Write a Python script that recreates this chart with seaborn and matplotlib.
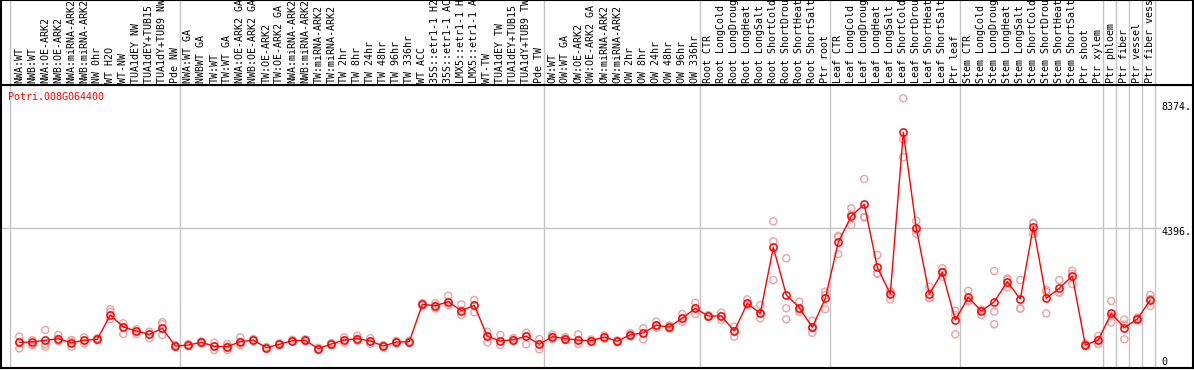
import numpy as np
import pandas as pd
import matplotlib
matplotlib.use("Agg")
import matplotlib.pyplot as plt
import seaborn as sns
from matplotlib.transforms import blended_transform_factory, offset_copy

# ---------------- data ----------------
labels = [
    "NWA:WT", "NWB:WT", "NWA:OE-ARK2", "NWB:OE-ARK2", "NWA:miRNA-ARK2", "NWB:miRNA-ARK2",
    "NW 0hr", "WT H2O", "WT-NW", "TUA1dEY NW", "TUA1dEY+TUB15 NW", "TUA1dY+TUB9 NW", "Pde NW",
    "NWA:WT GA", "NWBWT GA", "TW:WT", "TW:WT GA", "NWA:OE-ARK2 GA", "NWB:OE-ARK2 GA",
    "TW:OE-ARK2", "TW:OE-ARK2 GA", "NWA:miRNA-ARK2", "NWB:miRNA-ARK2", "TW:miRNA-ARK2",
    "TW:miRNA-ARK2", "TW 2hr", "TW 8hr", "TW 24hr", "TW 48hr", "TW 96hr", "TW 336hr", "WT ACC",
    "35S::etr1-1 H2O", "35S::etr1-1 ACC", "LMX5::etr1-1 H2O", "LMX5::etr1-1 ACC", "WT-TW",
    "TUA1dEY TW", "TUA1dEY+TUB15 TW", "TUA1dY+TUB9 TW", "Pde TW",
    "OW:WT", "OW:WT GA", "OW:OE-ARK2", "OW:OE-ARK2 GA", "OW:miRNA-ARK2", "OW:miRNA-ARK2",
    "OW 2hr", "OW 8hr", "OW 24hr", "OW 48hr", "OW 96hr", "OW 336hr",
    "Root CTR", "Root LongCold", "Root LongDrought", "Root LongHeat", "Root LongSalt",
    "Root ShortCold", "Root ShortDrought", "Root ShortHeat", "Root ShortSalt", "Ptr root",
    "Leaf CTR", "Leaf LongCold", "Leaf LongDrought", "Leaf LongHeat", "Leaf LongSalt",
    "Leaf ShortCold", "Leaf ShortDrought", "Leaf ShortHeat", "Leaf ShortSalt", "Ptr leaf",
    "Stem CTR", "Stem LongCold", "Stem LongDrought", "Stem LongHeat", "Stem LongSalt",
    "Stem ShortCold", "Stem ShortDrought", "Stem ShortHeat", "Stem ShortSalt",
    "Ptr shoot", "Ptr xylem", "Ptr phloem", "Ptr fiber", "Ptr vessel", "Ptr fiber vessel",
]

means = [
    647, 657, 713, 766, 634, 713, 745, 1543, 1149, 1018, 909, 1107, 525,
    558, 647, 515, 503, 667, 722, 470, 581, 700, 713, 437, 591, 722, 766, 690, 525, 655, 667,
    1895, 1849, 1980, 1685, 1862, 844, 690, 733, 844, 581,
    831, 766, 722, 700, 821, 680, 897, 952, 1205, 1149, 1435, 1763,
    1511, 1511, 1018, 1927, 1598, 3766, 2200, 1783, 1139, 2092,
    3931, 4795, 5179, 3110, 2233, 7543, 4391, 2223, 2946, 1379,
    2125, 1675, 1980, 2637, 2069, 4443, 2092, 2420, 2824, 558, 722,
    1598, 1127, 1412, 2036,
]

rep1 = [
    831, 713, 1051, 887, 722, 811, 780, 1731, 1271, 1074, 995, 1304, 560,
    590, 680, 634, 591, 811, 760, 500, 615, 730, 745, 470, 620, 811, 860, 780, 560, 690, 700,
    1930, 1930, 2177, 1895, 2036, 995, 887, 790, 962, 755,
    900, 820, 909, 740, 870, 710, 950, 1107, 1323, 1200, 1576, 1947,
    1540, 1619, 1159, 2059, 1872, 4620, 3405, 1980, 1356, 2309,
    4148, 5047, 6010, 3514, 2320, 8660, 4640, 2473, 3077, 1685,
    2342, 1720, 2988, 2749, 2693, 4575, 2364, 2693, 2998, 600, 854,
    2003, 1402, 1460, 2200,
]
rep2 = [
    647, 581, 581, 766, 660, 713, 745, 1642, 1149, 1000, 909, 1238, 525,
    558, 647, 515, 503, 667, 722, 470, 581, 700, 713, 437, 591, 722, 766, 690, 525, 655, 667,
    1895, 1849, 1980, 1685, 1862, 844, 690, 733, 844, 581,
    831, 766, 722, 700, 821, 680, 897, 952, 1205, 1149, 1435, 1763,
    1511, 1511, 1018, 1927, 1598, 3964, 1763, 1720, 1100, 2200,
    4100, 4840, 4772, 2913, 2310, 7313, 4330, 2100, 2960, 1540,
    2040, 1700, 1652, 2700, 1763, 4550, 2300, 2290, 2900, 560, 720,
    1500, 1230, 1412, 2070,
]
rep3 = [
    450, 548, 503, 690, 503, 614, 710, 1412, 920, 920, 778, 887, 490,
    525, 615, 394, 394, 558, 690, 440, 550, 670, 680, 405, 560, 634, 700, 600, 490, 620, 635,
    1850, 1763, 1872, 1543, 1632, 647, 558, 680, 581, 417,
    760, 720, 591, 660, 760, 650, 840, 745, 1130, 1100, 1323, 1576,
    1480, 1379, 831, 1870, 1435, 2693, 1402, 1650, 960, 1731,
    3547, 4499, 4740, 2900, 2059, 6722, 4204, 2092, 2801, 909,
    2000, 1543, 1238, 2453, 1750, 4204, 1598, 2276, 2562, 520, 591,
    1304, 745, 1370, 1839,
]

group_ends = [12, 40, 52, 62, 72, 83, 84, 85, 86, 87]
ytick_vals = [0, 4396, 8374]
ytick_text = ["0", "4396.", "8374."]
gene = "Potri.008G064400"

# ---------------- figure ----------------
sns.set_theme(style="white")
plt.rcParams["font.family"] = ["DejaVu Sans Mono", "DejaVu Sans"]

W, H = 1194, 370
fig = plt.figure(figsize=(W / 100, H / 100), dpi=100)
fig.patch.set_facecolor("white")


def px(x0, y0, x1, y1):
    return [x0 / W, 1 - y1 / H, (x1 - x0) / W, (y1 - y0) / H]


ax = fig.add_axes(px(1, 85, 1193, 368))
hax = fig.add_axes(px(1, 0, 1193, 85), sharex=ax)

idx = np.arange(len(labels))
df_means = pd.DataFrame({"idx": idx, "val": means})
df_reps = pd.DataFrame({
    "idx": np.concatenate([idx, idx, idx]),
    "val": np.concatenate([rep1, rep2, rep3]),
})

grid_c = "#c4c4c4"
sep_pos = [-0.715] + [g + 0.36 for g in group_ends]
for s in sep_pos:
    ax.axvline(s, color=grid_c, lw=1, zorder=1)
    hax.axvline(s, color=grid_c, lw=1, zorder=1)
ax.axhline(4396, xmin=0, xmax=0.972, color=grid_c, lw=1, zorder=1)

sns.scatterplot(data=df_reps, x="idx", y="val", ax=ax, marker="o", s=26,
                color="#f0a0a0", facecolor="none", edgecolor="#f0a0a0",
                linewidth=1.0, zorder=3, legend=False)
sns.lineplot(data=df_means, x="idx", y="val", ax=ax, color="red", lw=1,
             marker="o", markersize=5.2, markerfacecolor="none",
             markeredgecolor="red", markeredgewidth=1.1, zorder=4,
             estimator=None, legend=False)

ax.set_xlim(-1.408, 90.285)
ax.set_ylim(-197, 9097)
ax.set_xticks([])
ax.set_yticks([])
ax.set_xlabel("")
ax.set_ylabel("")
for sp in ax.spines.values():
    sp.set_color("black")
    sp.set_linewidth(1.5)

hax.set_ylim(0, 1)
hax.set_yticks([])
hax.tick_params(axis="x", bottom=False, labelbottom=False)
for sp in hax.spines.values():
    sp.set_color("black")
    sp.set_linewidth(1.5)

for i, lab in enumerate(labels):
    hax.text(i, 2 / 85, lab, rotation=90, ha="center", va="bottom",
             fontsize=7.2, color="black", clip_on=False)

tr = blended_transform_factory(ax.transAxes, ax.transData)
for v, t in zip(ytick_vals, ytick_text):
    trans = tr
    if v == 4396:
        trans = offset_copy(tr, fig=fig, x=0, y=-4, units="dots")
    ax.text(0.9735, v, t, transform=trans, ha="left", va="center",
            fontsize=7.2, color="black")

ax.text(0.0059, 0.9576, gene, transform=ax.transAxes, ha="left", va="center",
        fontsize=7.2, color="red")

fig.savefig("out.png", dpi=100)
